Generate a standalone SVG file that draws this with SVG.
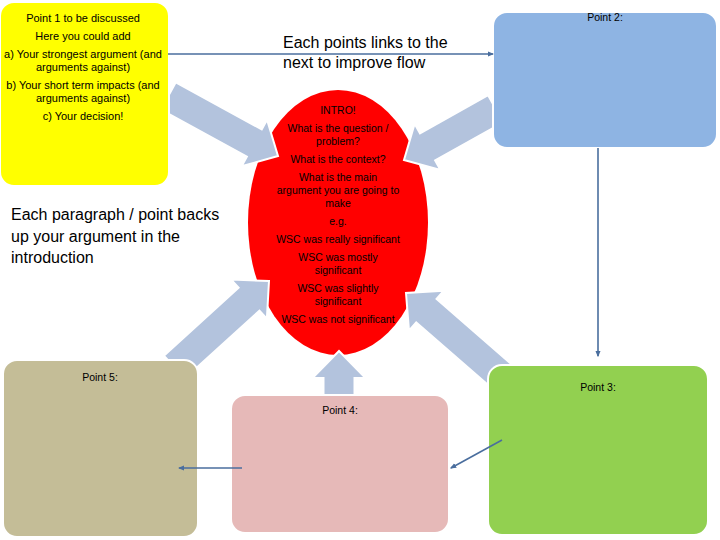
<svg xmlns="http://www.w3.org/2000/svg" width="720" height="540" viewBox="0 0 720 540">
<style>
text{font-family:"Liberation Sans",Arial,sans-serif;fill:#000}
.s{font-size:11px;text-anchor:middle}
.e{font-size:10.5px;text-anchor:middle}
.p{font-size:10.5px;text-anchor:middle}
.b{font-size:16px}
.box{stroke:#fff;stroke-width:2}
.blk{fill:#b3c3dd;stroke:#fff;stroke-width:2}
.ln{stroke:#4a6e9e;stroke-width:1.6;fill:none;marker-end:url(#ah)}
</style>
<defs>
<marker id="ah" viewBox="0 0 10 10" refX="8" refY="5" markerWidth="4" markerHeight="4" orient="auto">
<path d="M0,1 L10,5 L0,9 z" fill="#4a6e9e"/>
</marker>
</defs>
<rect width="720" height="540" fill="#fff"/>
<g id="intro">
<ellipse cx="338" cy="222.5" rx="90" ry="132.5" fill="#ff0000"/>
</g>
<g id="block-arrows">
<polygon class="blk" transform="translate(278,156) rotate(28.7)" points="0,0 -27,-26.5 -27,-15.5 -125,-15.5 -125,15.5 -27,15.5 -27,26.5"/>
<polygon class="blk" transform="translate(404,160) rotate(150.8)" points="0,0 -27,-26.5 -27,-15.5 -105,-15.5 -105,15.5 -27,15.5 -27,26.5"/>
<polygon class="blk" transform="translate(269,281) rotate(-42.3)" points="0,0 -27,-26.5 -27,-15.5 -128,-15.5 -128,15.5 -27,15.5 -27,26.5"/>
<polygon class="blk" transform="translate(406,293) rotate(-139)" points="0,0 -27,-26.5 -27,-15.5 -128,-15.5 -128,15.5 -27,15.5 -27,26.5"/>
<polygon class="blk" transform="translate(339,351) rotate(-90)" points="0,0 -27,-26.5 -27,-15.5 -48,-15.5 -48,15.5 -27,15.5 -27,26.5"/>
</g>
<g id="intro-text">
<text class="e" x="338" y="114">INTRO!</text>
<text class="e" x="338" y="132">What is the question /</text>
<text class="e" x="338" y="145">problem?</text>
<text class="e" x="338" y="163">What is the context?</text>
<text class="e" x="338" y="181">What is the main</text>
<text class="e" x="338" y="194">argument you are going to</text>
<text class="e" x="338" y="207">make</text>
<text class="e" x="338" y="225">e.g.</text>
<text class="e" x="338" y="243">WSC was really significant</text>
<text class="e" x="338" y="261">WSC was mostly</text>
<text class="e" x="338" y="274">significant</text>
<text class="e" x="338" y="292">WSC was slightly</text>
<text class="e" x="338" y="305">significant</text>
<text class="e" x="338" y="323">WSC was not significant</text>
</g>
<g id="point1">
<rect class="box" x="0" y="2" width="169" height="184" rx="14" fill="#ffff00"/>
<text class="s" x="83" y="22">Point 1 to be discussed</text>
<text class="s" x="83" y="40">Here you could add</text>
<text class="s" x="83" y="58">a) Your strongest argument (and</text>
<text class="s" x="83" y="71">arguments against)</text>
<text class="s" x="83" y="89">b) Your short term impacts (and</text>
<text class="s" x="83" y="102">arguments against)</text>
<text class="s" x="83" y="120">c) Your decision!</text>
</g>
<g id="point2">
<rect class="box" x="493" y="12" width="224" height="136" rx="14" fill="#8eb4e3"/>
<text class="p" x="605" y="21">Point 2:</text>
</g>
<g id="point3">
<rect class="box" x="488" y="365" width="220" height="170" rx="14" fill="#92d050"/>
<text class="p" x="598" y="391">Point 3:</text>
</g>
<g id="point4">
<rect class="box" x="231" y="395" width="218" height="138" rx="14" fill="#e6b9b8"/>
<text class="p" x="340" y="414">Point 4:</text>
</g>
<g id="point5">
<rect class="box" x="3" y="360" width="195" height="177" rx="14" fill="#c4bd97"/>
<text class="p" x="100" y="381">Point 5:</text>
</g>
<g id="notes">
<text class="b" x="283" y="48">Each points links to the</text>
<text class="b" x="283" y="68">next to improve flow</text>
<text class="b" x="11" y="220">Each paragraph / point backs</text>
<text class="b" x="11" y="242">up your argument in the</text>
<text class="b" x="11" y="263">introduction</text>
</g>
<g id="connectors">
<line class="ln" x1="168" y1="54" x2="493" y2="54"/>
<line class="ln" x1="598" y1="148" x2="598" y2="356"/>
<line class="ln" x1="502" y1="440" x2="451" y2="468"/>
<line class="ln" x1="242" y1="468" x2="179" y2="468"/>
</g>
</svg>
